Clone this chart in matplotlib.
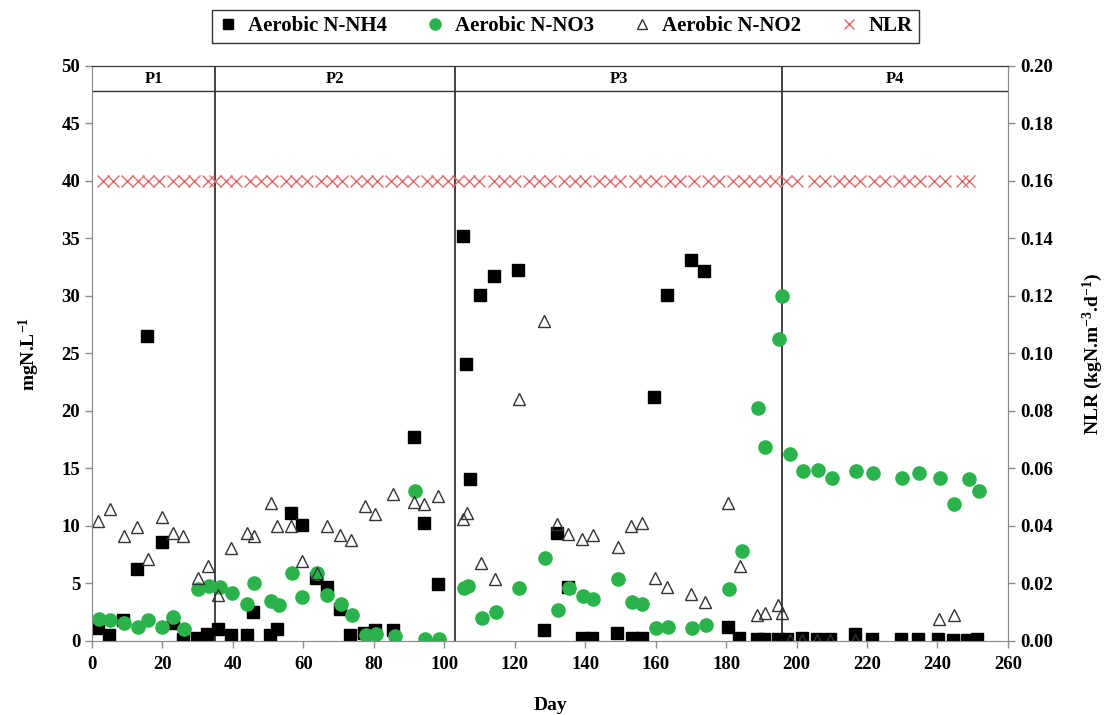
import matplotlib
matplotlib.use("Agg")
import matplotlib.pyplot as plt
from matplotlib.lines import Line2D

plt.rcParams['font.family'] = ['Liberation Serif', 'DejaVu Serif']
plt.rcParams['font.weight'] = 'bold'
plt.rcParams['mathtext.fontset'] = 'custom'
plt.rcParams['mathtext.rm'] = 'Liberation Serif:bold'
plt.rcParams['mathtext.bf'] = 'Liberation Serif:bold'
plt.rcParams['mathtext.default'] = 'bf'

# Aerobic N-NH4 (day, mgN/L)
nh4_day = [1.6, 4.8, 8.9, 12.7, 15.6, 19.8, 22.9, 25.7, 29.7, 32.6, 35.7, 39.5, 43.9, 45.8,
           50.5, 52.6, 56.4, 59.5, 63.6, 66.6, 70.4, 73.2, 77.2, 80.3, 85.5, 91.4, 94.2, 98.3,
           105.2, 106.3, 107.3, 110.1, 114.2, 121.0, 128.3, 132.1, 135.0, 139.0, 141.8, 148.9,
           153.2, 156.0, 159.6, 163.1, 170.0, 173.8, 180.6, 183.7, 188.7, 190.7, 194.8, 197.2,
           201.4, 205.7, 209.5, 216.6, 221.3, 229.6, 234.6, 240.2, 244.5, 248.3, 251.1]
nh4_val = [1.1, 0.5, 1.8, 6.3, 26.5, 8.6, 1.6, 0.2, 0.3, 0.6, 1.0, 0.5, 0.5, 2.5,
           0.5, 1.0, 11.1, 10.1, 5.45, 4.7, 2.8, 0.5, 0.7, 0.95, 0.95, 17.7, 10.3, 4.95,
           35.2, 24.1, 14.1, 30.1, 31.7, 32.3, 0.96, 9.37, 4.7, 0.3, 0.3, 0.7,
           0.3, 0.3, 21.2, 30.1, 33.1, 32.2, 1.25, 0.3, 0.15, 0.15, 0.15, 0.15,
           0.3, 0.15, 0.15, 0.6, 0.15, 0.15, 0.15, 0.2, 0.1, 0.05, 0.15]

# Aerobic N-NO3
no3_day = [2.0, 5.1, 9.2, 13.0, 16.0, 20.0, 23.1, 26.1, 30.2, 33.2, 36.3, 39.8, 43.9, 46.1,
           50.8, 53.1, 56.7, 59.7, 64.0, 66.8, 70.6, 73.7, 77.8, 80.6, 86.0, 91.7, 94.5, 98.6,
           105.6, 106.8, 110.6, 114.7, 121.3, 128.6, 132.4, 135.4, 139.3, 142.3, 149.4, 153.2,
           156.2, 160.1, 163.6, 170.2, 174.2, 180.9, 184.4, 189.1, 191.0, 195.1, 196.0, 198.1,
           201.9, 206.2, 210.0, 216.9, 221.6, 229.8, 234.7, 240.7, 244.8, 248.9, 251.9]
no3_val = [1.9, 1.8, 1.6, 1.2, 1.8, 1.2, 2.1, 1.0, 4.5, 4.8, 4.7, 4.2, 3.2, 5.0,
           3.5, 3.1, 5.9, 3.8, 5.9, 4.0, 3.2, 2.3, 0.5, 0.6, 0.4, 13.0, 0.2, 0.15,
           4.6, 4.8, 2.0, 2.5, 4.6, 7.2, 2.7, 4.6, 3.9, 3.65, 5.4, 3.4,
           3.2, 1.1, 1.2, 1.1, 1.4, 4.5, 7.8, 20.3, 16.9, 26.3, 30.0, 16.3,
           14.8, 14.9, 14.2, 14.8, 14.6, 14.15, 14.6, 14.2, 11.9, 14.1, 13.0]

# Aerobic N-NO2
no2_day = [1.8, 5.1, 9.1, 12.9, 16.0, 19.8, 23.1, 25.9, 30.0, 32.8, 35.7, 39.5, 43.9, 46.0,
           50.7, 52.6, 56.4, 59.5, 63.8, 66.8, 70.4, 73.4, 77.5, 80.3, 85.5, 91.4, 94.2, 98.3,
           105.4, 106.5, 110.4, 114.4, 121.2, 128.4, 132.1, 135.2, 139.0, 142.1, 149.2, 153.0,
           156.0, 159.8, 163.1, 170.0, 174.0, 180.6, 183.9, 188.7, 191.0, 194.6, 195.9, 198.0,
           201.4, 205.7, 209.5, 216.6, 240.5, 244.8]
no2_val = [10.4, 11.5, 9.1, 9.9, 7.1, 10.8, 9.4, 9.1, 5.45, 6.5, 4.0, 8.1, 9.4, 9.1,
           12.0, 10.0, 10.0, 6.95, 5.9, 10.0, 9.2, 8.8, 11.7, 11.0, 12.8, 12.1, 11.9, 12.6,
           10.6, 11.1, 6.8, 5.4, 21.0, 27.8, 10.2, 9.3, 8.9, 9.2, 8.2, 10.0,
           10.3, 5.45, 4.7, 4.1, 3.4, 12.0, 6.5, 2.3, 2.4, 3.1, 2.4, 0.1,
           0.1, 0.1, 0.1, 0.1, 1.9, 2.3]

# NLR (kgN.m-3.d-1), right axis
nlr_day = [3, 6, 10, 13, 16, 19, 23, 26, 29, 33, 35, 38, 41, 45, 48, 51, 55, 58, 61, 65,
           68, 71, 75, 78, 81, 85, 88, 91, 95, 98, 101, 104, 107, 110, 114, 117, 120, 124,
           127, 130, 134, 137, 140, 144, 147, 150, 154, 157, 160, 164, 167, 171, 175, 178,
           182, 185, 188, 191, 194, 197, 200, 205, 208, 212, 215, 218, 222, 225, 229, 232,
           235, 239, 242, 247, 249]
nlr_val = [0.16] * len(nlr_day)

period_bounds = [0, 35, 103, 196, 260]
period_labels = ['P1', 'P2', 'P3', 'P4']

fig = plt.figure(figsize=(11.04, 7.15), dpi=100)
ax = fig.add_axes([0.0833, 0.1035, 0.8297, 0.8042])
ax2 = ax.twinx()

green = '#2bb34b'
red = '#e36a6a'
ax.plot(nh4_day, nh4_val, ls='none', marker='s', ms=8.5, color='black', zorder=3)
ax.plot(no3_day, no3_val, ls='none', marker='o', ms=9.5, color=green, zorder=4)
ax.plot(no2_day, no2_val, ls='none', marker='^', ms=8, mfc='none', mec='#333333', mew=1.0, zorder=5)
ax2.plot(nlr_day, nlr_val, ls='none', marker='x', ms=9, mew=1.0, color=red, zorder=2)

# period separators and header band
header_y = 47.8
for b in period_bounds[1:-1]:
    ax.axvline(b, color='#333333', lw=1.3, zorder=1)
ax.axhline(header_y, color='#333333', lw=1.0, zorder=1)
for i, lab in enumerate(period_labels):
    xm = (period_bounds[i] + period_bounds[i + 1]) / 2
    ax.text(xm, (50 + header_y) / 2, lab, ha='center', va='center', fontsize=12, fontweight='bold')

ax.set_xlim(0, 260)
ax.set_ylim(0, 50)
ax2.set_ylim(0, 0.2)
ax.set_xticks(range(0, 261, 20))
ax.set_yticks(range(0, 51, 5))
ax2.set_yticks([i * 0.02 for i in range(11)])
ax2.set_yticklabels(['%.2f' % (i * 0.02) for i in range(11)])

for a in (ax, ax2):
    for s in ('left', 'right', 'bottom'):
        a.spines[s].set_color('#8c8c8c')
    a.spines['top'].set_color('#333333')
    a.tick_params(axis='both', direction='out', length=5, color='#8c8c8c', labelsize=13.5, width=1)
ax.tick_params(axis='x', pad=6)
for lab in ax.get_xticklabels() + ax.get_yticklabels() + ax2.get_yticklabels():
    lab.set_fontweight('bold')

ax.set_xlabel('Day', fontsize=14, fontweight='bold', labelpad=17)
ax.set_ylabel('mgN.L$^{-1}$', fontsize=14, fontweight='bold', labelpad=14)
ax2.set_ylabel('NLR (kgN.m$^{-3}$.d$^{-1}$)', fontsize=14, fontweight='bold', labelpad=20)

handles = [
    Line2D([], [], ls='none', marker='s', ms=7, color='black'),
    Line2D([], [], ls='none', marker='o', ms=8, color=green),
    Line2D([], [], ls='none', marker='^', ms=7, mfc='none', mec='#333333'),
    Line2D([], [], ls='none', marker='x', ms=7, color=red),
]
labels = ['Aerobic N-NH4', 'Aerobic N-NO3', 'Aerobic N-NO2', 'NLR']
leg = fig.legend(handles, labels, loc='center', bbox_to_anchor=(0.512, 0.963), ncol=4,
                 frameon=True, fancybox=False, edgecolor='black',
                 handletextpad=0.45, columnspacing=1.8, borderpad=0.3, handlelength=1.0,
                 borderaxespad=0, prop={'weight': 'bold', 'size': 15})
leg.get_frame().set_linewidth(1.0)

fig.savefig('out.png', dpi=100)
